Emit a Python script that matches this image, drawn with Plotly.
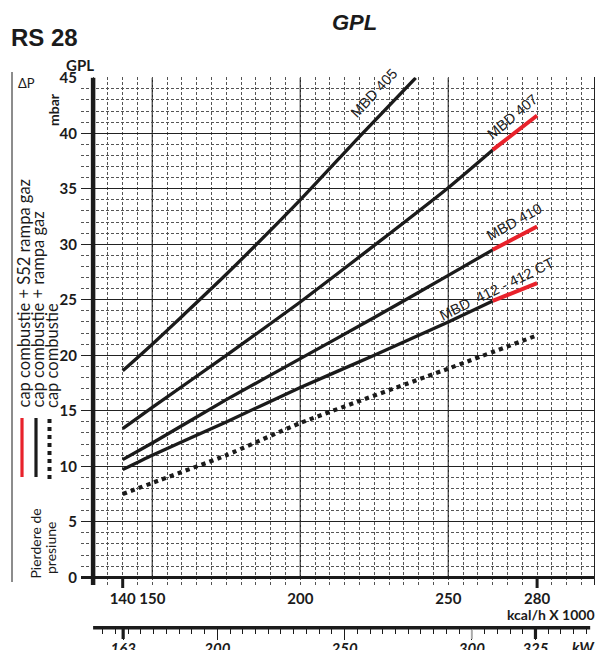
import plotly.graph_objects as go

# ---------------- data ----------------
KCAL_405 = [140, 150, 160, 175, 200, 220, 239]
DP_405 = [18.6, 21.0, 23.5, 27.3, 34.0, 39.7, 45.0]

KCAL = [140, 150, 175, 200, 225, 250, 265, 280]
DP_407 = [13.4, 15.3, 20.0, 24.8, 29.9, 35.1, 38.5, 41.6]
DP_410 = [10.6, 12.1, 16.0, 19.7, 23.4, 27.2, 29.5, 31.6]
DP_412 = [9.7, 11.0, 14.0, 17.1, 20.0, 23.0, 24.9, 26.5]

KCAL_HEAD = [140, 150, 175, 200, 250, 280]
DP_HEAD = [7.5, 8.5, 11.0, 13.9, 18.8, 21.8]

RED_FROM = 265          # kcal/h x1000 where the "+ S52" (red) part starts

CURVE_NAMES = ["MBD 405", "MBD 407", "MBD 410", "MBD  412 - 412 CT"]

X_TICK_LABELS = [140, 150, 200, 250, 280]
X_MAJOR_LINES = [150, 200, 250]
X_THICK_TICKS = [140, 280]
X_AXIS_START = 130
Y_TICKS = list(range(0, 46, 5))
KW_TICK_LABELS = [163, 200, 250, 300, 325]
KW_THICK_TICKS = [163, 325]
KW_GRAY_TICKS = [300]
KW_PER_KCAL = 1.163

# ---------------- layout geometry ----------------
W, H = 598, 650
PX_200, PX_PER_KCAL = 300.3, 2.96
Y0_PX, PX_PER_MBAR = 577.3, 11.1


def kcal_at(px):
    return 200 + (px - PX_200) / PX_PER_KCAL


def px_x(px):
    return px / W


def px_y(py):
    return 1 - py / H


X_RANGE = [kcal_at(81), kcal_at(594)]
Y_RANGE = [-0.7, 45.05]
Y_DOMAIN = [px_y(Y0_PX - Y_RANGE[0] * PX_PER_MBAR), px_y(Y0_PX - Y_RANGE[1] * PX_PER_MBAR)]
KW_RANGE = [X_RANGE[0] * KW_PER_KCAL, X_RANGE[1] * KW_PER_KCAL]
KW_START = X_AXIS_START * KW_PER_KCAL

BLACK = "#1b1b1b"
RED = "#e8222b"
FONT = "Lato"

fig = go.Figure()


def split(xs, ys):
    blk = [(x, y) for x, y in zip(xs, ys) if x <= RED_FROM]
    red = [(x, y) for x, y in zip(xs, ys) if x >= RED_FROM]
    return blk, red


fig.add_trace(go.Scatter(x=KCAL_405, y=DP_405, mode="lines",
                         line=dict(color=BLACK, width=3.3, shape="spline", smoothing=0.6),
                         showlegend=False, hoverinfo="skip"))
for dp in (DP_407, DP_410, DP_412):
    blk, red = split(KCAL, dp)
    fig.add_trace(go.Scatter(x=[p[0] for p in blk], y=[p[1] for p in blk], mode="lines",
                             line=dict(color=BLACK, width=3.3, shape="spline", smoothing=0.5),
                             showlegend=False, hoverinfo="skip"))
    fig.add_trace(go.Scatter(x=[p[0] for p in red], y=[p[1] for p in red], mode="lines",
                             line=dict(color=RED, width=4),
                             showlegend=False, hoverinfo="skip"))
fig.add_trace(go.Scatter(x=KCAL_HEAD, y=DP_HEAD, mode="lines",
                         line=dict(color=BLACK, width=4.2, dash="dot", shape="spline", smoothing=0.5),
                         showlegend=False, hoverinfo="skip"))

# helper (empty) traces so that the overlaid axes are drawn
fig.add_trace(go.Scatter(x=[], y=[], yaxis="y2", showlegend=False, hoverinfo="skip"))
fig.add_trace(go.Scatter(x=[], y=[], xaxis="x2", showlegend=False, hoverinfo="skip"))

grid_vals = list(range(X_AXIS_START, int(X_RANGE[1]) + 1, 5))
kw_minor = [v for v in range(0, int(KW_RANGE[1]) + 1, 5) if v > KW_START]

fig.update_layout(
    width=W, height=H,
    margin=dict(l=0, r=0, t=0, b=0),
    paper_bgcolor="white", plot_bgcolor="white",
    font=dict(family=FONT, color=BLACK),
    xaxis=dict(
        domain=[px_x(81), px_x(594)], range=X_RANGE, automargin=False,
        tickmode="array", tickvals=grid_vals,
        ticktext=[str(v) if v in X_TICK_LABELS else "" for v in grid_vals],
        showgrid=True, gridcolor="#555", gridwidth=1, griddash="3px,2px",
        ticks="", showline=False, zeroline=False,
        tickfont=dict(family=FONT, size=15, weight="bold", color=BLACK),
        ticklabelstandoff=3,
    ),
    yaxis=dict(
        domain=Y_DOMAIN, range=Y_RANGE, automargin=False,
        tickmode="array", tickvals=Y_TICKS,
        showgrid=True, gridcolor="#222", gridwidth=1,
        minor=dict(dtick=1, tick0=0, showgrid=True, gridcolor="#555", gridwidth=1, griddash="3px,2px"),
        zeroline=True, zerolinecolor=BLACK, zerolinewidth=2.6,
        ticks="", showline=False,
        tickfont=dict(family=FONT, size=15, weight="bold", color=BLACK),
        ticklabelstandoff=3,
    ),
    yaxis2=dict(
        overlaying="y", side="right", range=Y_RANGE, automargin=False,
        showline=True, linecolor="#222", linewidth=1,
        showticklabels=False, showgrid=False, zeroline=False, ticks="",
    ),
    xaxis2=dict(
        overlaying="x", anchor="free", position=px_y(627.7), automargin=False,
        range=KW_RANGE, side="bottom",
        showline=False,
        tickmode="array", tickvals=KW_TICK_LABELS,
        ticks="outside", ticklen=11, tickwidth=1, tickcolor=BLACK,
        minor=dict(tickmode="array", tickvals=kw_minor, ticks="outside", ticklen=5,
                   tickwidth=1, tickcolor=BLACK, showgrid=False),
        showgrid=False, zeroline=False,
        tickfont=dict(family=FONT, size=15, weight="bold", style="italic", color=BLACK),
        ticklabelstandoff=-4,
    ),
)

shapes = []
for v in X_MAJOR_LINES:
    shapes.append(dict(type="line", xref="x", yref="y", x0=v, x1=v, y0=0, y1=45,
                       line=dict(color="#111", width=1.2), layer="below"))
shapes.append(dict(type="line", xref="x", yref="y", x0=X_AXIS_START, x1=X_AXIS_START,
                   y0=Y_RANGE[0], y1=45, line=dict(color=BLACK, width=4.5)))
for v in X_THICK_TICKS:
    shapes.append(dict(type="line", xref="x", yref="paper", x0=v, x1=v,
                       y0=px_y(577), y1=px_y(588), line=dict(color=BLACK, width=3)))
# kW axis line (starts at the left axis)
shapes.append(dict(type="line", xref="x2", yref="paper", x0=KW_START, x1=KW_RANGE[1] - 1.5,
                   y0=px_y(627.7), y1=px_y(627.7), line=dict(color=BLACK, width=3.6)))
for v in KW_THICK_TICKS:
    shapes.append(dict(type="line", xref="x2", yref="paper", x0=v, x1=v,
                       y0=px_y(628), y1=px_y(639), line=dict(color=BLACK, width=3.2)))
for v in KW_GRAY_TICKS:
    shapes.append(dict(type="line", xref="x2", yref="paper", x0=v, x1=v,
                       y0=px_y(629.5), y1=px_y(639), line=dict(color="#aaaaaa", width=2)))
# left frame line
shapes.append(dict(type="line", xref="paper", yref="paper", x0=px_x(12), x1=px_x(12),
                   y0=px_y(72), y1=px_y(582), line=dict(color=BLACK, width=1)))
# legend swatches
shapes.append(dict(type="line", xref="paper", yref="paper", x0=px_x(22), x1=px_x(22),
                   y0=px_y(418), y1=px_y(477), line=dict(color=RED, width=3.2)))
shapes.append(dict(type="line", xref="paper", yref="paper", x0=px_x(36), x1=px_x(36),
                   y0=px_y(418), y1=px_y(477), line=dict(color=BLACK, width=3.2)))
shapes.append(dict(type="line", xref="paper", yref="paper", x0=px_x(49.5), x1=px_x(49.5),
                   y0=px_y(419), y1=px_y(483), line=dict(color=BLACK, width=4, dash="dot")))
fig.update_layout(shapes=shapes)

ann = []


def text(x, y, s, size, weight="normal", style="normal", angle=0, xanchor="center",
         yanchor="middle", family=FONT, xref="paper", yref="paper", color=BLACK):
    ann.append(dict(x=x, y=y, xref=xref, yref=yref, text=s, showarrow=False,
                    textangle=angle, xanchor=xanchor, yanchor=yanchor,
                    font=dict(family=family, size=size, weight=weight, style=style, color=color)))


text(px_x(9), px_y(37), "RS 28", 24, weight="bold", xanchor="left", family="Liberation Sans")
text(px_x(354), px_y(23), "GPL", 22, weight="bold", style="italic", family="Liberation Sans")
text(px_x(80), px_y(65), "GPL", 15, weight="bold")
text(px_x(26), px_y(83), "ΔP", 13)
text(px_x(53), px_y(110), "mbar", 14, weight="bold", angle=-90)
text(px_x(597), px_y(614), "kcal/h X 1000", 14, weight="bold", xanchor="right")
text(px_x(597), px_y(647), "kW", 15, weight="bold", style="italic", xanchor="right")

legend_lines = ["cap combustie + S52 rampa gaz", "cap combustie + rampa gaz", "cap combustie"]
for s, cx in zip(legend_lines, [23, 37.5, 51.5]):
    text(px_x(cx), px_y(410), s, 16.5, angle=-90, yanchor="bottom")
text(px_x(35), px_y(543.5), "Pierdere de", 14, angle=-90)
text(px_x(50), px_y(548), "presiune", 14, angle=-90)

label_pos = [(224.9, 43.6, -47), (271.4, 41.5, -40), (272.2, 32.0, -29), (266.3, 26.0, -26)]
for name, (lx, ly, ang) in zip(CURVE_NAMES, label_pos):
    text(lx, ly, name, 14.5, angle=ang, xref="x", yref="y", family="Liberation Sans", color="#222")

fig.update_layout(annotations=ann)

fig.write_html(
    "out.html",
    config={"displayModeBar": False},
    post_script="document.body.style.margin='0';document.body.style.overflow='hidden';",
)
